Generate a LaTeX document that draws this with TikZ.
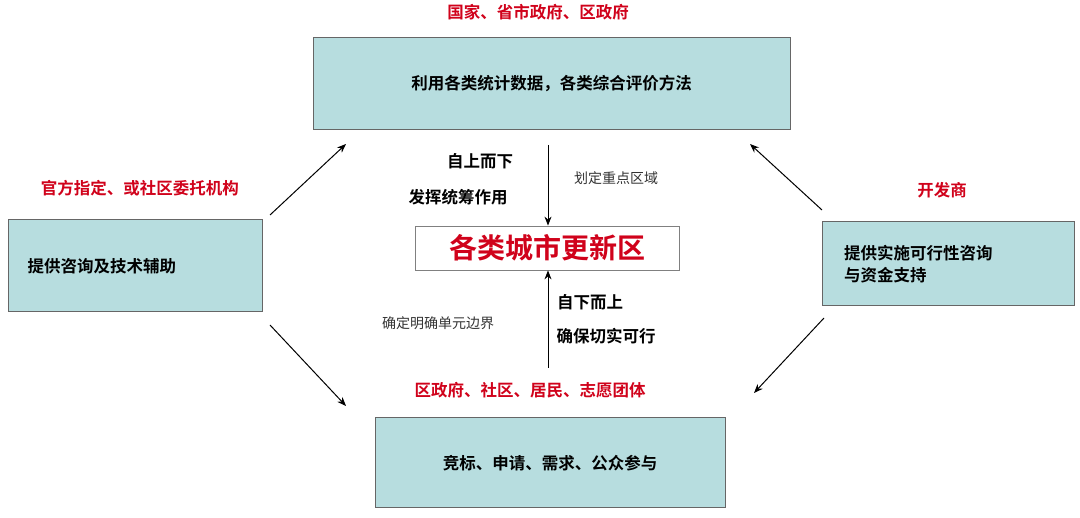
\documentclass[tikz,border=0pt]{standalone}
\usepackage{fontspec}
\setmainfont{Noto Sans CJK SC}
\newfontfamily\cjkb{Noto Sans CJK SC Bold}
\usetikzlibrary{arrows.meta}
\definecolor{boxfill}{HTML}{B7DDDF}
\definecolor{lbl}{HTML}{D0021B}
\tikzset{x=1pt,y=-1pt,
 bx/.style={draw=gray!80!black,fill=boxfill,line width=1pt,minimum width=#1,align=left},
 rl/.style={text=lbl,font=\cjkb\fontsize{16.5}{19}\selectfont},
 bt/.style={font=\cjkb\fontsize{16.5}{22}\selectfont},
 nt/.style={font=\fontsize{14}{16}\selectfont,text=black!80},
 ar/.style={-{Stealth[length=9pt,width=7pt]},line width=1pt}}
\begin{document}
\begin{tikzpicture}
\useasboundingbox (0,0) rectangle (1080,518);
\node[bx=477pt,minimum height=92pt,align=center,bt] (top) at (551.5,84) {利用各类统计数据，各类综合评价方法};
\node[bx=254pt,minimum height=92pt,bt,text width=215pt] (left) at (135,266) {提供咨询及技术辅助};
\node[bx=252pt,minimum height=84pt,bt,text width=208pt] (right) at (948,264) {提供实施可行性咨询\\与资金支持};
\node[bx=350pt,minimum height=90pt,bt] (bot) at (550,463) {竞标、申请、需求、公众参与};
\node[draw=gray,line width=0.8pt,minimum width=264pt,minimum height=44pt,text=lbl,font=\cjkb\fontsize{28}{30}\selectfont] (ctr) at (547,248) {各类城市更新区};
\node[rl] (l1) at (538,12) {国家、省市政府、区政府};
\node[rl] (l2) at (140,188) {官方指定、或社区委托机构};
\node[rl] (l3) at (942,190) {开发商};
\node[rl] (l4) at (530,390) {区政府、社区、居民、志愿团体};
\node[bt] (t1) at (480,161) {自上而下};
\node[bt] (t2) at (458,197) {发挥统筹作用};
\node[nt] (t3) at (616,178) {划定重点区域};
\node[nt] (t4) at (438,323) {确定明确单元边界};
\node[bt] (t5) at (590,302) {自下而上};
\node[bt] (t6) at (606,336) {确保切实可行};
\coordinate (a1) at (548,145); \coordinate (a2) at (548,368);
\draw[ar] (a1) -- (ctr.north -| a1);
\draw[ar] (a2) -- (ctr.south -| a2);
\coordinate (d1) at (270,215); \coordinate (e1) at (346,144);
\coordinate (d2) at (270,325); \coordinate (e2) at (346,406);
\coordinate (d3) at (822,210); \coordinate (e3) at (750,144);
\coordinate (d4) at (824,318); \coordinate (e4) at (754,393);
\draw[ar] (d1) -- (e1);
\draw[ar] (d2) -- (e2);
\draw[ar] (d3) -- (e3);
\draw[ar] (d4) -- (e4);
\end{tikzpicture}
\end{document}
